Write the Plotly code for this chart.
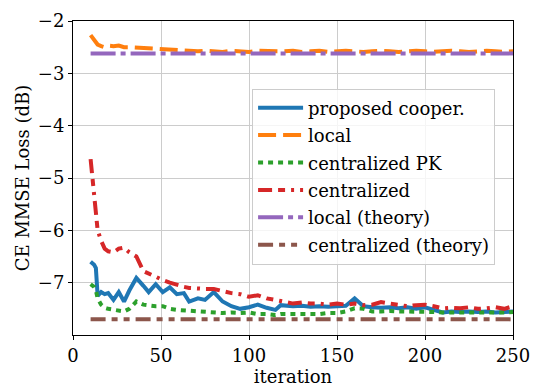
import plotly.graph_objects as go

iters = [10, 12, 13, 14, 16, 18, 20, 23, 26, 29, 32, 36, 40, 43, 47, 51, 55, 59, 63, 66, 71, 75, 80, 85, 90, 95,
         100, 105, 110, 115, 118, 125, 130, 135, 140, 145, 150, 155, 160, 165, 170, 175, 180, 185, 190, 195,
         200, 205, 210, 215, 220, 225, 230, 235, 240, 245, 250]

proposed = [-6.60, -6.66, -6.72, -7.25, -7.18, -7.22, -7.20, -7.33, -7.18, -7.36, -7.15, -6.91, -7.06, -7.18,
            -7.03, -7.18, -7.09, -7.22, -7.20, -7.36, -7.30, -7.33, -7.18, -7.36, -7.45, -7.50,
            -7.47, -7.42, -7.48, -7.52, -7.43, -7.45, -7.44, -7.46, -7.45, -7.46, -7.45, -7.44, -7.30, -7.45,
            -7.47, -7.48, -7.47, -7.49, -7.47, -7.50, -7.47, -7.52, -7.57, -7.55, -7.56, -7.55, -7.56, -7.55,
            -7.57, -7.56, -7.55]

local = [-2.27, -2.35, -2.40, -2.45, -2.48, -2.50, -2.47, -2.48, -2.47, -2.50, -2.50, -2.51, -2.52, -2.52,
         -2.53, -2.53, -2.54, -2.55, -2.56, -2.58, -2.58, -2.57, -2.58, -2.59, -2.57, -2.58,
         -2.59, -2.57, -2.58, -2.59, -2.58, -2.57, -2.59, -2.58, -2.57, -2.59, -2.58, -2.57, -2.58, -2.59,
         -2.58, -2.57, -2.58, -2.59, -2.58, -2.57, -2.58, -2.59, -2.58, -2.57, -2.58, -2.59, -2.58, -2.57,
         -2.58, -2.59, -2.58]

central_pk = [-7.03, -7.08, -7.15, -7.30, -7.42, -7.48, -7.50, -7.52, -7.53, -7.55, -7.50, -7.36, -7.42,
              -7.44, -7.45, -7.45, -7.50, -7.52, -7.53, -7.53, -7.55, -7.56, -7.58, -7.58, -7.57, -7.58,
              -7.57, -7.60, -7.60, -7.62, -7.60, -7.60, -7.59, -7.60, -7.60, -7.58, -7.58, -7.55, -7.49, -7.50,
              -7.55, -7.55, -7.54, -7.55, -7.55, -7.55, -7.55, -7.56, -7.57, -7.57, -7.58, -7.57, -7.57, -7.58,
              -7.57, -7.57, -7.56]

centralized = [-4.64, -5.30, -5.70, -6.00, -6.20, -6.35, -6.40, -6.42, -6.35, -6.33, -6.42, -6.50, -6.78,
               -6.83, -6.90, -6.95, -7.00, -7.05, -7.08, -7.10, -7.12, -7.12, -7.12, -7.17, -7.20, -7.22,
               -7.27, -7.24, -7.30, -7.33, -7.35, -7.40, -7.38, -7.40, -7.40, -7.42, -7.40, -7.42, -7.40, -7.43,
               -7.42, -7.37, -7.40, -7.42, -7.45, -7.43, -7.42, -7.45, -7.49, -7.48, -7.49, -7.47, -7.50, -7.49,
               -7.47, -7.50, -7.45]

theory_x = [10, 250]
local_theory = [-2.62, -2.62]
central_theory = [-7.70, -7.70]

names = ["proposed cooper.", "local", "centralized PK", "centralized", "local (theory)", "centralized (theory)"]
colors = ["#1f77b4", "#ff7f0e", "#2ca02c", "#d62728", "#9467bd", "#8c564b"]
dashes = ["solid", "18px,7px", "5px,5px", "14px,6px,7px,6px,3px,6px", "25px,5px,5px,5px",
          "15px,6px,6px,6px,6px,6px"]

series = [(iters, proposed), (iters, local), (iters, central_pk), (iters, centralized),
          (theory_x, local_theory), (theory_x, central_theory)]

FONT = "DejaVu Serif"
FS = 18
fig = go.Figure()
for i, ((xs, ys), n, c, d) in enumerate(zip(series, names, colors, dashes)):
    fig.add_trace(go.Scatter(x=xs, y=ys, mode="lines", name=n, legendgroup=f"g{i}",
                             line=dict(color=c, width=4, dash=d)))

axis_common = dict(showline=True, linecolor="black", linewidth=1, mirror=True,
                   ticks="outside", ticklen=4, tickcolor="black", tickwidth=1,
                   showgrid=True, gridcolor="#cccccc", gridwidth=1, zeroline=False,
                   tickfont=dict(family=FONT, size=FS, color="black"))

fig.update_xaxes(range=[0, 250], tickvals=[0, 50, 100, 150, 200, 250],
                 title=dict(text="iteration", font=dict(family=FONT, size=FS, color="black"), standoff=2),
                 **axis_common)
fig.update_yaxes(range=[-8, -2], tickvals=[-7, -6, -5, -4, -3, -2],
                 title=dict(text="CE MMSE Loss (dB)", font=dict(family=FONT, size=FS, color="black"), standoff=3),
                 **axis_common)

fig.update_layout(
    width=540, height=390,
    margin=dict(l=73, r=25, t=10, b=50),
    plot_bgcolor="white", paper_bgcolor="white",
    font=dict(family=FONT, size=FS, color="black"),
    legend=dict(x=0.407, y=0.785, xanchor="left", yanchor="top",
                bgcolor="rgba(255,255,255,0.8)", bordercolor="#cccccc", borderwidth=1,
                tracegroupgap=1, itemwidth=45, font=dict(family=FONT, size=FS, color="black")),
    showlegend=True,
)

fig.write_html("out.html")
